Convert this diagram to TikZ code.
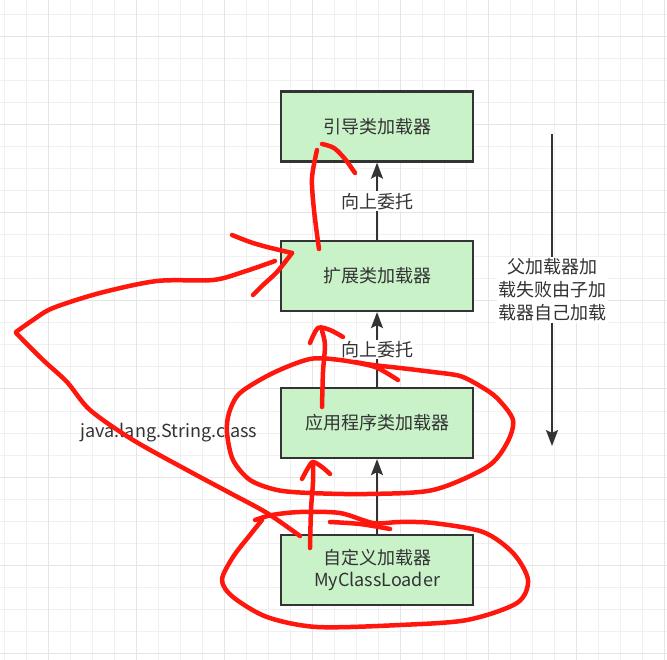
\documentclass[tikz,border=0pt]{standalone}
\usepackage{fontspec}
\setmainfont{Noto Sans CJK SC}
\usepackage{tikz}
\usetikzlibrary{arrows.meta}
\definecolor{boxgreen}{RGB}{201,242,201}
\definecolor{darkline}{RGB}{51,51,51}
\definecolor{inkred}{RGB}{255,22,12}

\begin{document}
\begin{tikzpicture}[x=1pt, y=-1pt,
  loader/.style={draw=darkline, line width=2.3pt, fill=boxgreen, minimum width=192pt, minimum height=70pt,
    text=darkline, align=center, font=\fontsize{18}{22}\selectfont},
  flow/.style={darkline, line width=2pt, -{Stealth[length=16pt, width=12pt, inset=3pt]}},
  tag/.style={fill=white, text=darkline, inner sep=1.5pt, align=center, font=\fontsize{18}{23}\selectfont},
  ink/.style={inkred, line width=4.5pt, line cap=round, line join=round}]

  % === BACKGROUND GRID ===
  \useasboundingbox (0,0) rectangle (667,660);
  \fill[white] (0,0) rectangle (667,660);
  \foreach \k in {0,...,30} {
    \draw[gray!12, line width=1pt] (4+22*\k,0) -- (4+22*\k,660);
  }
  \foreach \k in {0,...,29} {
    \draw[gray!12, line width=1pt] (0,15+22*\k) -- (667,15+22*\k);
  }
  \foreach \x in {48,136,...,664} {
    \draw[gray!20, line width=1pt] (\x,0) -- (\x,660);
  }
  \foreach \y in {37,125,...,653} {
    \draw[gray!20, line width=1pt] (0,\y) -- (667,\y);
  }

  % === LOADERS ===
  \node[loader] (boot)   at (377,126.5) {引导类加载器};
  \node[loader] (ext)    at (377,276)   {扩展类加载器};
  \node[loader] (app)    at (377,423)   {应用程序类加载器};
  \node[loader] (custom) at (377,570)   {自定义加载器\\MyClassLoader};

  % Delegation upwards
  \draw[flow] (ext) -- node[tag]{向上委托} (boot);
  \draw[flow] (app) -- node[tag]{向上委托} (ext);
  \draw[flow] (custom) -- (app);

  % Fallback downwards
  \coordinate (fallTop) at (552,134);
  \coordinate (fallEnd) at (552,446);
  \draw[flow] (fallTop) -- node[tag]{父加载器加\\载失败由子加\\载器自己加载} (fallEnd);

  \node[text=darkline, font=\fontsize{18}{22}\selectfont] (clsname) at (169,433) {java.lang.String.class};

  % === RED MARKS ===
  % up into boot loader
  \draw[ink] plot[smooth] coordinates {(319,249) (314,210) (312,178) (317,150)};
  \draw[ink] plot[smooth] coordinates {(322,144) (334,148) (345,159) (355,173)};
  % up into ext loader
  \draw[ink] plot[smooth] coordinates {(322,407) (323,372) (325,345) (322,331)};
  \draw[ink] plot[smooth] coordinates {(310,343) (318,328) (330,330) (343,337)};
  % up into app loader
  \draw[ink] plot[smooth] coordinates {(310,548) (311,510) (313,482) (313,464)};
  \draw[ink] plot[smooth] coordinates {(302,479) (308,468) (313,462) (322,467) (330,474)};
  % String.class round the side
  \draw[ink] plot[smooth] coordinates {(300,536) (267,513) (230,493) (187,470) (133,440) (90,410) (67,382) (43,360) (16,333)};
  \draw[ink] plot[smooth] coordinates {(16,332) (33,320) (53,308) (100,293) (157,281) (213,280) (243,272) (275,261)};
  \draw[ink] plot[smooth] coordinates {(232,235) (250,242) (267,247) (292,253)};
  \draw[ink] plot[smooth] coordinates {(292,253) (277,272) (263,285) (253,295)};
  % ring round app loader
  \draw[ink] plot[smooth] coordinates {(398,380) (385,372) (372,366) (340,360) (310,359) (273,373) (240,393)
    (229,413) (227,433) (233,460) (250,480) (277,490) (310,493) (367,494) (433,490) (487,467) (507,443)
    (513,420) (497,398) (480,386) (460,376) (433,372) (400,368) (373,365) (355,362)};
  % ring round custom loader
  \draw[ink] plot[smooth] coordinates {(255,520) (272,515) (300,512) (340,513) (373,523) (400,522) (433,523)
    (483,532) (513,553) (528,580) (517,603) (467,620) (400,625) (317,627) (267,617) (233,597) (222,580)
    (233,557) (250,535) (262,520)};
  \draw[ink] plot[smooth] coordinates {(330,522) (360,524) (390,529)};
\end{tikzpicture}
\end{document}
